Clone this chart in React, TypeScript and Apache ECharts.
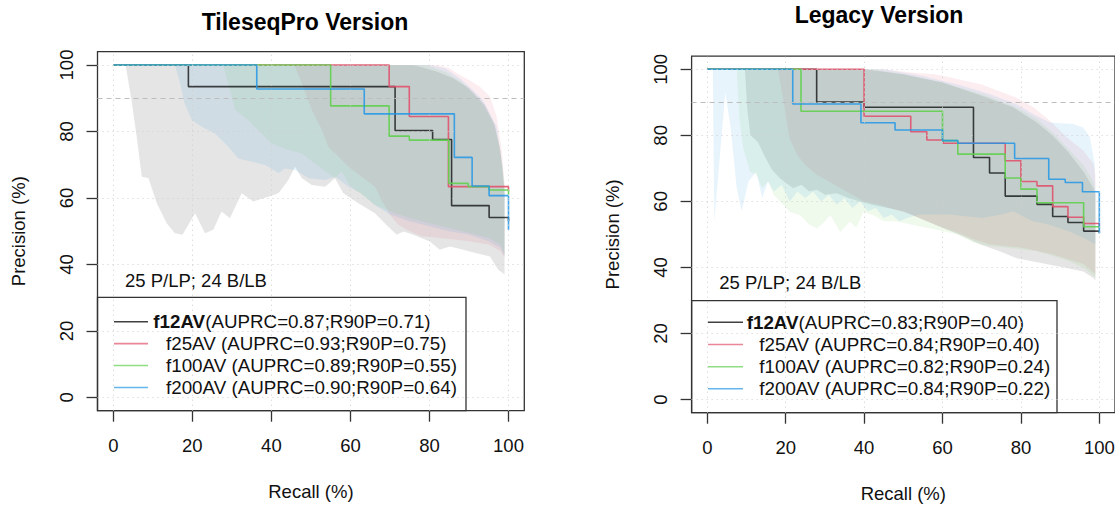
import React, { useEffect, useRef } from "react";
import * as echarts from "echarts";

const FONT = "'Liberation Sans', Arial, Helvetica, sans-serif";

const recallTicks = [0, 20, 40, 60, 80, 100];
const precisionTicks = [0, 20, 40, 60, 80, 100];
const gridTicks = [0, 20, 40, 60, 80, 100];
const thresholdPrecision = 90;

const seriesNames = ["f12AV", "f25AV", "f100AV", "f200AV"];
const lineColors = ["rgba(0,0,0,0.72)", "rgba(223,83,107,0.9)", "rgba(97,208,79,0.9)", "rgba(34,151,230,0.85)"];
const legendLineColors = ["rgba(0,0,0,0.75)", "rgba(223,83,107,0.7)", "rgba(97,208,79,0.7)", "rgba(34,151,230,0.7)"];
const bandColors = ["rgba(0,0,0,0.1)", "rgba(223,83,107,0.1)", "rgba(97,208,79,0.1)", "rgba(34,151,230,0.1)"];

const panelTitles = ["TileseqPro Version", "Legacy Version"];
const countLabel = "25 P/LP; 24 B/LB";
const tsAuprc = ["0.87", "0.93", "0.89", "0.90"];
const tsR90p = ["0.71", "0.75", "0.55", "0.64"];
const lgAuprc = ["0.83", "0.84", "0.82", "0.84"];
const lgR90p = ["0.40", "0.40", "0.24", "0.22"];

// ---- TileseqPro step curves: [recall, precision after the step] ----
const tsF12 = [[0, 100], [19, 93.5], [71.3, 80.3], [80.8, 77.6], [85.6, 57.7], [95.1, 54.1], [100, 53]];
const tsF25 = [[0, 100], [69.8, 93.5], [74.9, 84.5], [84.8, 63.4], [100, 62]];
const tsF100 = [[0, 100], [55, 87.7], [69.8, 78.6], [74.9, 77.4], [84.9, 64.4], [89.8, 63.4], [95.1, 62.4], [100, 61]];
const tsF200 = [[0, 100], [36.3, 92.8], [63.5, 85.3], [86.3, 72.2], [90.8, 63.6], [95.1, 60.7], [100, 50.4]];

// ---- Legacy step curves ----
const lgF12 = [[0, 100], [27.9, 90.1], [40, 88.5], [67.9, 73.3], [72, 68.6], [76, 61.6], [84.1, 59.1], [88.1, 55.4], [92, 53.6], [96, 51], [100, 50.5]];
const lgF25 = [[0, 100], [40, 85.8], [51.9, 81.1], [56, 78.6], [60.2, 77.6], [76, 72.3], [80, 66], [84.1, 64.7], [88.1, 58.4], [92, 55.2], [96, 53.3], [100, 52.5]];
const lgF100 = [[0, 100], [23.9, 87.3], [60, 78.4], [63.9, 74.3], [76, 67.1], [80, 63.7], [84.1, 59.6], [96, 52.3], [100, 51.5]];
const lgF200 = [[0, 100], [21.8, 89.5], [39.2, 83.8], [47.9, 81.6], [60, 78.4], [63.9, 77.6], [78.4, 73], [87.1, 66.7], [91.3, 65.7], [95.7, 62.9], [100, 50.3]];

// ---- TileseqPro confidence bands ----
const tsBandF12Upper = [[0, 100], [76, 100], [82, 98], [86, 96], [90, 93], [94, 88], [96.5, 82], [98, 74], [99, 62]];
const tsBandF12Lower = [[0, 100], [3.1, 100], [4.6, 89.5], [5.9, 78.5], [7.2, 66.4], [8.9, 65.9], [11, 58.4], [13.5, 52.4], [15.6, 49.4], [17.5, 48.9], [20.7, 55.4], [23.2, 49.4], [25.3, 50.4], [27.4, 55.9], [29.5, 53.9], [32.5, 61.4], [35.4, 58.9], [39.2, 60.4], [41.8, 61.4], [44.3, 65.4], [46, 69.4], [47.7, 65.9], [50.2, 63.9], [53.6, 63.4], [56.1, 65.9], [58.2, 61.4], [62, 58.4], [66.2, 55.4], [69, 52], [71.7, 48.9], [73.4, 49.9], [75.9, 48.9], [80.1, 46.9], [82.6, 44.4], [85.2, 45.4], [88.5, 44.4], [91.9, 43.4], [95.3, 42.4], [97.4, 38.4], [99, 37]];
const tsBandF25Upper = [[0, 100], [82, 100], [85, 99], [87.7, 97], [90, 95.5], [92.7, 93.5], [95.3, 90.5], [97, 84.5], [98.3, 74.4], [99, 64]];
const tsBandF25Lower = [[0, 100], [45.8, 100], [47.7, 94.5], [50.2, 86.5], [52.8, 80.4], [54.4, 75.4], [57, 72.4], [59.5, 69.4], [62.8, 66.4], [64, 65.4], [66.2, 63.4], [68, 59], [70, 55], [72, 52], [75, 50], [78, 48.5], [82, 48], [86, 47.5], [90, 47], [95, 46], [98, 44], [99, 42]];
const tsBandF100Upper = [[0, 100], [79, 100], [84, 98], [88, 95], [93, 89], [96, 83], [97.5, 77], [98.5, 70], [99, 64]];
const tsBandF100Lower = [[0, 100], [27.8, 100], [29.1, 94.5], [30.8, 86.5], [34.2, 83.4], [37.5, 79.4], [40.1, 76.4], [44.3, 74.4], [47.7, 73.4], [51, 70.4], [54.4, 67.4], [56, 66], [57.8, 68], [59.5, 64.4], [61.2, 62.4], [64, 60], [66, 58], [70, 56], [75, 54], [80, 52.5], [85, 51], [90, 49.5], [95, 48], [98, 46], [99, 43]];
const tsBandF200Upper = [[0, 100], [80, 100], [84, 99], [87.7, 96], [90.5, 93], [93.5, 89.5], [97, 81.5], [98.5, 69], [99, 62]];
const tsBandF200Lower = [[0, 100], [15.6, 100], [16.9, 94.5], [18, 88.5], [19.9, 83.4], [22.4, 81.4], [25.7, 79.4], [29.1, 75.4], [31.6, 71.9], [35, 70.9], [38.4, 69.9], [41.8, 67.4], [43.4, 68.9], [46, 68.4], [49.4, 65.9], [53.6, 65.4], [56.1, 66.4], [59.5, 63.4], [62.8, 61.4], [66, 58], [70, 55], [75, 53], [80, 51.5], [85, 50], [90, 49], [95, 47], [98, 45], [99, 42.5]];

// ---- Legacy confidence bands ----
const lgBandF12Upper = [[0, 100], [40, 100], [50, 98.5], [60, 96], [70, 92], [78, 88.5], [84, 84], [88, 80], [92, 75], [96, 69], [98.5, 64], [99, 62]];
const lgBandF12Lower = [[0, 100], [9.6, 100], [10.2, 88], [11, 80], [12.9, 78], [14.5, 74], [16.5, 69.6], [18.5, 67], [21.9, 64], [24, 65], [26, 63], [28, 63.5], [30, 62], [33, 62.5], [36, 61], [39, 60], [42, 59], [46, 58], [50, 57], [54, 55], [58, 53], [62, 51], [66, 49], [70, 46.8], [74.7, 44.8], [78.9, 42.8], [83.2, 41.8], [87.4, 40.8], [91.7, 39.8], [95.9, 38.8], [98.5, 36.8], [99, 36]];
const lgBandF25Upper = [[0, 100], [45, 100], [52, 99], [58, 98.5], [62, 97.5], [70, 95.4], [78.9, 91.4], [83.2, 88.5], [87.4, 84.4], [91.7, 79.4], [95.9, 75.4], [98.5, 71.4], [99, 68]];
const lgBandF25Lower = [[0, 100], [18, 100], [19.5, 90], [21, 79], [23, 74], [25, 71], [28, 68], [31, 66], [34, 64], [37, 62], [40, 60], [44, 59], [48, 57.5], [52, 56], [56, 54], [60, 52], [64, 50.5], [68, 48.5], [72, 47], [76, 46.5], [80, 46], [84, 45], [88, 44], [92, 42.5], [96, 41], [99, 38]];
const lgBandF100Upper = [[0, 100], [42, 100], [50, 98.5], [60, 96], [70, 92.5], [78, 89], [84, 85], [88, 81], [92, 76], [96, 71], [98.5, 66], [99, 63]];
const lgBandF100Lower = [[0, 100], [7.5, 100], [8.2, 85], [9.2, 76], [10.9, 69], [12.6, 68], [14, 64], [15.5, 66], [16.9, 62], [18.6, 60], [21.1, 56.8], [23.7, 55.8], [26, 53], [28, 51.8], [30, 54], [31.4, 55.8], [33.9, 50.7], [36.4, 53.8], [38, 52], [39.8, 56.8], [42.4, 55.8], [45, 54], [48, 54], [52, 53], [56, 52], [60, 51], [64, 50], [68, 47.5], [72, 46.5], [76, 46], [80, 45.5], [84, 45], [88, 43.5], [92, 42], [96, 40], [99, 37]];
const lgBandF200Upper = [[0, 100], [45, 100], [55, 98], [65, 95], [72, 92.5], [78.9, 89.4], [83.2, 86.4], [87.4, 83.9], [93.3, 83.4], [95.9, 82.4], [97.6, 79.4], [98.8, 71.4], [99, 64]];
const lgBandF200Lower = [[0, 100], [1.4, 100], [1.8, 54], [4.6, 93], [6, 82], [7.5, 64], [8.8, 57], [10.5, 66], [12.5, 69], [14, 61], [15.5, 66], [17, 63], [19, 65], [21, 60], [23, 63], [25, 61], [27, 63], [29, 60], [31, 62], [33, 59], [35, 61], [37, 58], [39, 60], [41, 57], [43, 58], [45, 55], [47, 56], [49, 54], [51, 55], [54, 56], [58, 56], [62, 56], [66, 55.5], [70, 55], [75, 56], [78, 57], [83, 54], [87, 53], [92, 51], [96, 49], [99, 47]];

const panels = [
  {
    title: panelTitles[0],
    curves: [tsF12, tsF25, tsF100, tsF200],
    bands: [
      [tsBandF12Upper, tsBandF12Lower],
      [tsBandF25Upper, tsBandF25Lower],
      [tsBandF100Upper, tsBandF100Lower],
      [tsBandF200Upper, tsBandF200Lower],
    ],
    auprc: tsAuprc,
    r90p: tsR90p,
  },
  {
    title: panelTitles[1],
    curves: [lgF12, lgF25, lgF100, lgF200],
    bands: [
      [lgBandF12Upper, lgBandF12Lower],
      [lgBandF25Upper, lgBandF25Lower],
      [lgBandF100Upper, lgBandF100Lower],
      [lgBandF200Upper, lgBandF200Lower],
    ],
    auprc: lgAuprc,
    r90p: lgR90p,
  },
];

// layout (pixels)
const layout = [
  { left: 97.5, top: 51.7, width: 426.8, height: 359, titleX: 305, titleY: 22, legend: { x: 97.5, y: 297.3, w: 368.5 }, rows: [321.7, 343.6, 365.5, 387.5], lineX: [114, 148], textX: [153.3, 166], countX: 125, countY: 280 },
  { left: 691.6, top: 56.1, width: 423.4, height: 356.6, titleX: 879, titleY: 15, legend: { x: 691.6, y: 300.7, w: 365.4 }, rows: [322.3, 344.5, 366.7, 388.8], lineX: [708, 743], textX: [746.7, 759.3], countX: 719.3, countY: 282.3 },
];

export default function App() {
  const ref = useRef<HTMLDivElement>(null);

  useEffect(() => {
    if (!ref.current) return;
    const chart = echarts.init(ref.current, null, { renderer: "svg" });

    const grids: any[] = [];
    const xAxes: any[] = [];
    const yAxes: any[] = [];
    const series: any[] = [];
    const graphics: any[] = [];

    panels.forEach((p, gi) => {
      const L = layout[gi];
      grids.push({
        left: L.left, top: L.top, width: L.width, height: L.height,
        show: true, borderColor: "#333", borderWidth: 1.3, backgroundColor: "transparent",
        containLabel: false, outerBoundsMode: "none",
      });
      xAxes.push({
        gridIndex: gi, type: "value", min: -4, max: 104, position: "bottom",
        axisLine: { show: false, onZero: false },
        axisTick: { show: true, inside: false, length: 11, customValues: recallTicks, lineStyle: { color: "#333", width: 1.3 } },
        axisLabel: { customValues: recallTicks, margin: 25, fontSize: 18.5, color: "#111", fontFamily: FONT },
        splitLine: { show: false },
        name: "Recall (%)", nameLocation: "middle", nameGap: 71,
        nameTextStyle: { fontSize: 18.5, color: "#111", fontFamily: FONT },
      });
      yAxes.push({
        gridIndex: gi, type: "value", min: -4, max: 104, position: "left",
        axisLine: { show: false, onZero: false },
        axisTick: { show: true, inside: false, length: 11, customValues: precisionTicks, lineStyle: { color: "#333", width: 1.3 } },
        axisLabel: { customValues: precisionTicks, rotate: 90, margin: 22, fontSize: 18.5, color: "#111", fontFamily: FONT },
        splitLine: { show: false },
        name: "Precision (%)", nameLocation: "middle", nameGap: 70, nameRotate: 90,
        nameTextStyle: { fontSize: 18.5, color: "#111", fontFamily: FONT },
      });

      // bands
      p.bands.forEach((b, bi) => {
        const upper = b[0];
        const lower = b[1];
        series.push({
          type: "custom",
          xAxisIndex: gi, yAxisIndex: gi,
          silent: true,
          clip: true,
          data: [upper[0]],
          renderItem: (_params: any, api: any) => {
            const pts = upper.concat(lower.slice().reverse()).map((pt) => api.coord(pt));
            return { type: "polygon", shape: { points: pts }, style: { fill: bandColors[bi] } };
          },
          z: 1,
        });
      });

      // grid lines and threshold line
      series.push({
        type: "line", xAxisIndex: gi, yAxisIndex: gi, data: [], silent: true,
        markLine: {
          silent: true, symbol: ["none", "none"], label: { show: false }, animation: false,
          lineStyle: { type: [1, 4], color: "#cfcfcf", width: 1 },
          data: [
            ...gridTicks.map((v) => ({ xAxis: v })),
            ...gridTicks.map((v) => ({ yAxis: v })),
            { yAxis: thresholdPrecision, lineStyle: { type: [5, 4], color: "#bdbdbd", width: 1.1 } },
          ],
        },
        z: 2,
      });

      // step curves
      p.curves.forEach((c, ci) => {
        series.push({
          type: "line", name: seriesNames[ci], xAxisIndex: gi, yAxisIndex: gi,
          data: c, step: "end", showSymbol: false, symbol: "none",
          lineStyle: { color: lineColors[ci], width: 1.6 },
          z: 3, silent: true,
        });
      });

      // title
      graphics.push({
        type: "text", x: L.titleX, y: L.titleY,
        style: { text: p.title, font: `bold 23px ${FONT}`, fill: "#000", align: "center", verticalAlign: "middle" },
      });
      // count label
      graphics.push({
        type: "text", x: L.countX, y: L.countY,
        style: { text: countLabel, font: `18.5px ${FONT}`, fill: "#111", align: "left", verticalAlign: "middle" },
      });
      // legend box
      const bottom = L.top + L.height;
      graphics.push({
        type: "rect", shape: { x: L.legend.x, y: L.legend.y, width: L.legend.w, height: bottom - L.legend.y },
        style: { fill: "none", stroke: "#333", lineWidth: 1.3 },
      });
      L.rows.forEach((ry, ri) => {
        graphics.push({
          type: "line", shape: { x1: L.lineX[0], y1: ry, x2: L.lineX[1], y2: ry },
          style: { stroke: legendLineColors[ri], lineWidth: 1.6 },
        });
        if (ri === 0) {
          graphics.push({
            type: "text", x: L.textX[0], y: ry,
            style: {
              text: `{b|${seriesNames[ri]}}{n|(AUPRC=${p.auprc[ri]};R90P=${p.r90p[ri]})}`,
              rich: {
                b: { font: `bold 18.8px ${FONT}`, fill: "#111" },
                n: { font: `18.8px ${FONT}`, fill: "#111" },
              },
              verticalAlign: "middle", align: "left",
            },
          });
        } else {
          graphics.push({
            type: "text", x: L.textX[1], y: ry,
            style: {
              text: `${seriesNames[ri]} (AUPRC=${p.auprc[ri]};R90P=${p.r90p[ri]})`,
              font: `18.8px ${FONT}`, fill: "#111", verticalAlign: "middle", align: "left",
            },
          });
        }
      });
    });

    chart.setOption({
      animation: false,
      backgroundColor: "#fff",
      textStyle: { fontFamily: FONT },
      grid: grids,
      xAxis: xAxes,
      yAxis: yAxes,
      series,
      graphic: graphics,
    });

    return () => chart.dispose();
  }, []);

  return (
    <div
      ref={ref}
      style={{ position: "absolute", left: 0, top: 0, width: 1115, height: 505 }}
    />
  );
}
